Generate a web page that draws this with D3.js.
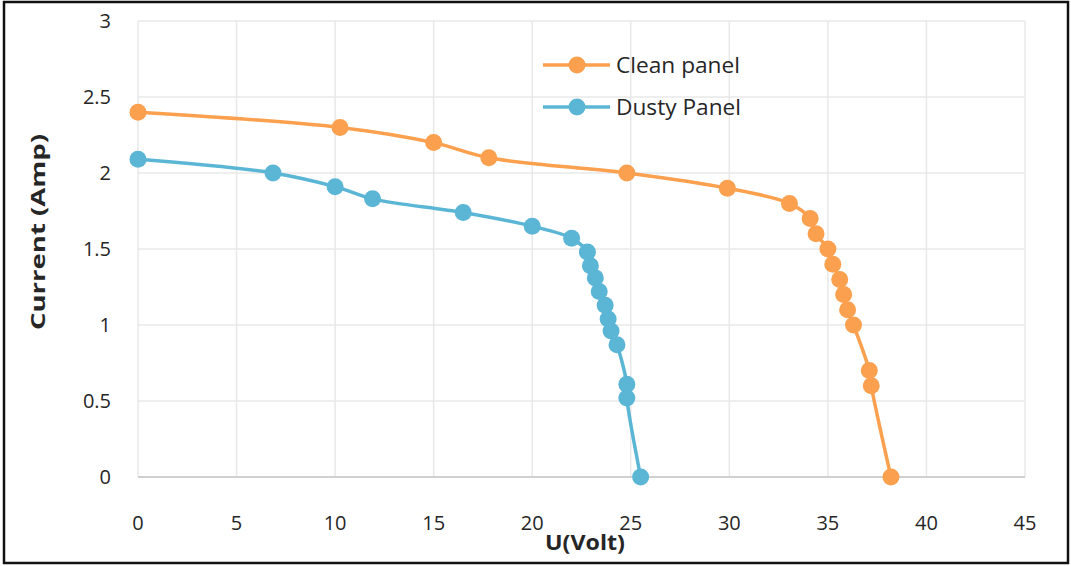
<!DOCTYPE html>
<html>
<head>
<meta charset="utf-8">
<script src="https://cdn.jsdelivr.net/npm/d3@7"></script>
<style>
  body { margin: 0; background: #fff; }
  svg text { font-family: "Open Sans", "DejaVu Sans", sans-serif; fill: #262626; }
</style>
</head>
<body>
<div id="chart"></div>
<script>
// I-V curves
var cleanU = [0, 10.25, 15, 17.8, 24.8, 29.9, 33.05, 34.1, 34.4, 35.0, 35.25, 35.6, 35.8, 36.0, 36.3, 37.1, 37.2, 38.2];
var cleanI = [2.4, 2.3, 2.2, 2.1, 2.0, 1.9, 1.8, 1.7, 1.6, 1.5, 1.4, 1.3, 1.2, 1.1, 1.0, 0.7, 0.6, 0];
var dustyU = [0, 6.85, 10.0, 11.9, 16.5, 20.0, 22.0, 22.8, 22.95, 23.2, 23.4, 23.7, 23.85, 24.0, 24.3, 24.8, 24.8, 25.5];
var dustyI = [2.09, 2.0, 1.91, 1.83, 1.74, 1.65, 1.57, 1.48, 1.39, 1.31, 1.22, 1.13, 1.04, 0.96, 0.87, 0.61, 0.52, 0];
var xTicks = [0, 5, 10, 15, 20, 25, 30, 35, 40, 45];
var yTicks = [0, 0.5, 1, 1.5, 2, 2.5, 3];
var seriesNames = ["Clean panel", "Dusty Panel"];
var colors = ["#FBA04E", "#5BB6D6"];

var width = 1071, height = 566;
var margin = {top: 21, right: 46, bottom: 89, left: 138};

var svg = d3.select("#chart").append("svg")
    .attr("width", width)
    .attr("height", height);

// outer frame
svg.append("rect")
    .attr("x", 4).attr("y", 2)
    .attr("width", width - 7).attr("height", height - 5)
    .attr("fill", "none")
    .attr("stroke", "#111")
    .attr("stroke-width", 2.5);

var x = d3.scaleLinear().domain([0, 45]).range([margin.left, width - margin.right]);
var y = d3.scaleLinear().domain([0, 3]).range([height - margin.bottom, margin.top]);

// gridlines
svg.append("g").selectAll("line.v")
    .data(xTicks)
    .enter().append("line")
    .attr("x1", x).attr("x2", x)
    .attr("y1", y(3)).attr("y2", y(0))
    .attr("stroke", "#e8e8e8").attr("stroke-width", 1.5);

svg.append("g").selectAll("line.h")
    .data(yTicks.filter(function(d) { return d > 0; }))
    .enter().append("line")
    .attr("x1", x(0)).attr("x2", x(45))
    .attr("y1", y).attr("y2", y)
    .attr("stroke", "#e8e8e8").attr("stroke-width", 1.5);

// baseline
svg.append("line")
    .attr("x1", x(0)).attr("x2", x(45))
    .attr("y1", y(0)).attr("y2", y(0))
    .attr("stroke", "#d0d0d0").attr("stroke-width", 2);

// tick labels
svg.append("g").selectAll("text")
    .data(xTicks)
    .enter().append("text")
    .attr("x", x)
    .attr("y", 530)
    .attr("text-anchor", "middle")
    .style("font-size", "20px")
    .text(function(d) { return d; });

svg.append("g").selectAll("text")
    .data(yTicks)
    .enter().append("text")
    .attr("x", 111)
    .attr("y", function(d) { return y(d) + 7; })
    .attr("text-anchor", "end")
    .style("font-size", "20px")
    .text(function(d) { return d; });

// axis titles
svg.append("text")
    .attr("x", 585).attr("y", 550)
    .attr("text-anchor", "middle")
    .attr("textLength", 80).attr("lengthAdjust", "spacingAndGlyphs")
    .style("font-size", "21px").style("font-weight", "bold")
    .text("U(Volt)");

svg.append("text")
    .attr("transform", "translate(45," + 232 + ") rotate(-90)")
    .attr("text-anchor", "middle")
    .attr("textLength", 196).attr("lengthAdjust", "spacingAndGlyphs")
    .style("font-size", "20px").style("font-weight", "bold")
    .text("Current (Amp)");

var line = d3.line()
    .x(function(d) { return x(d[0]); })
    .y(function(d) { return y(d[1]); })
    .curve(d3.curveCatmullRom);

var series = [d3.zip(cleanU, cleanI), d3.zip(dustyU, dustyI)];

series.forEach(function(pts, i) {
    svg.append("path")
        .datum(pts)
        .attr("fill", "none")
        .attr("stroke", colors[i])
        .attr("stroke-width", 3.5)
        .attr("d", line);

    svg.append("g").selectAll("circle")
        .data(pts)
        .enter().append("circle")
        .attr("cx", function(d) { return x(d[0]); })
        .attr("cy", function(d) { return y(d[1]); })
        .attr("r", 8.5)
        .attr("fill", colors[i]);
});

// legend
var legend = svg.append("g").selectAll("g")
    .data(seriesNames)
    .enter().append("g")
    .attr("transform", function(d, i) { return "translate(543," + (65 + i * 42) + ")"; });

legend.append("line")
    .attr("x1", 0).attr("x2", 67)
    .attr("stroke", function(d, i) { return colors[i]; })
    .attr("stroke-width", 3.5);

legend.append("circle")
    .attr("cx", 34).attr("r", 8.5)
    .attr("fill", function(d, i) { return colors[i]; });

legend.append("text")
    .attr("x", 73).attr("y", 8)
    .attr("textLength", function(d, i) { return i === 0 ? 124 : 125; })
    .attr("lengthAdjust", "spacingAndGlyphs")
    .style("font-size", "21px")
    .text(function(d) { return d; });
</script>
</body>
</html>
